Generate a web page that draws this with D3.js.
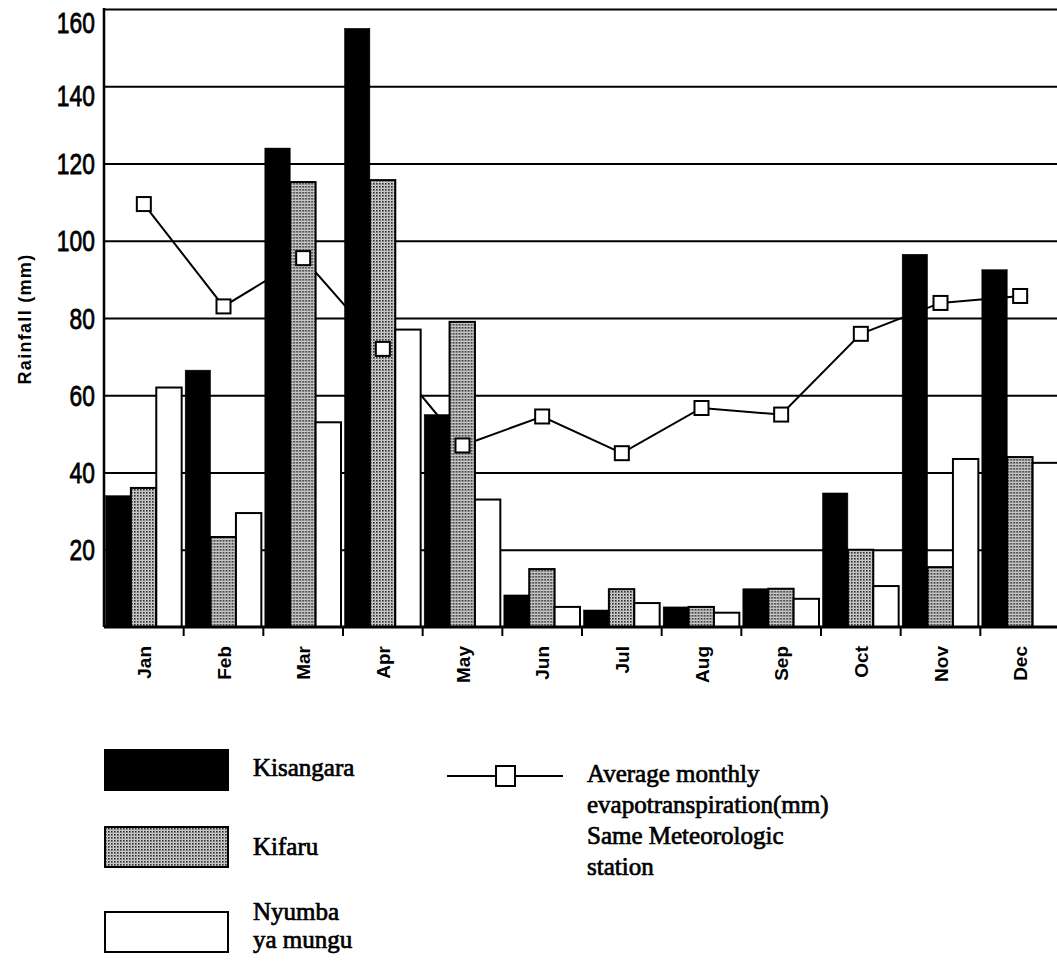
<!DOCTYPE html>
<html>
<head>
<meta charset="utf-8">
<script src="https://cdn.jsdelivr.net/npm/d3@7"></script>
<style>
  html, body { margin: 0; padding: 0; background: #fff; }
  svg { display: block; }
</style>
</head>
<body>
<svg id="chart" width="1057" height="964"></svg>
<script>
// Monthly rainfall at three stations, plus average evapotranspiration
const months = ["Jan", "Feb", "Mar", "Apr", "May", "Jun", "Jul", "Aug", "Sep", "Oct", "Nov", "Dec"];
const kisangara = [34, 66.5, 124, 155, 55, 8.3, 4.4, 5.2, 9.9, 34.7, 96.5, 92.5];
const kifaru    = [36, 23.3, 115.2, 115.7, 79, 15, 9.8, 5.2, 9.9, 20, 15.5, 44];
const nyumba    = [62, 29.5, 53, 77, 33, 5.2, 6.2, 3.7, 7.3, 10.6, 43.5, 42.5];
const evapo     = [109.5, 83, 95.5, 72, 47, 54.5, 45, 56.7, 55, 75.9, 83.9, 85.7];
const yTicks    = [20, 40, 60, 80, 100, 120, 140, 160];
const seriesNames = ["Kisangara", "Kifaru", "Nyumba ya mungu"];

const svg = d3.select("#chart");

const plotLeft = 104, plotRight = 1060, plotTop = 9, plotBottom = 627;
const x = d3.scaleBand().domain(months).range([plotLeft, plotRight]).paddingInner(0).paddingOuter(0);
const y = d3.scaleLinear().domain([0, 160]).range([plotBottom, plotTop]);
const sub = d3.scaleBand().domain(seriesNames).range([1.5, x.bandwidth() - 2]).paddingInner(0);

// halftone fill used for the Kifaru bars
const defs = svg.append("defs");
const pat = defs.append("pattern").attr("id", "dots")
  .attr("patternUnits", "userSpaceOnUse").attr("width", 3).attr("height", 3);
pat.append("rect").attr("width", 3).attr("height", 3).attr("fill", "#cfcfcf");
pat.append("rect").attr("width", 1.6).attr("height", 1.6).attr("fill", "#2a2a2a");
pat.append("rect").attr("x", 1.5).attr("y", 1.5).attr("width", 0.9).attr("height", 0.9).attr("fill", "#7a7a7a");

const fills = { "Kisangara": "#000", "Kifaru": "url(#dots)", "Nyumba ya mungu": "#fff" };
const values = { "Kisangara": kisangara, "Kifaru": kifaru, "Nyumba ya mungu": nyumba };

// gridlines and y labels
const yAxis = d3.axisLeft(y).tickValues(yTicks).tickSize(-(plotRight - plotLeft)).tickPadding(12)
  .tickFormat(d3.format("d"));
const gy = svg.append("g").attr("transform", `translate(${plotLeft},0)`).call(yAxis);
gy.select(".domain").remove();
gy.selectAll(".tick line").attr("stroke", "#000").attr("stroke-width", 2);
gy.selectAll(".tick text")
  .attr("font-family", "'Liberation Sans', 'DejaVu Sans', sans-serif")
  .attr("font-size", 30)
  .attr("fill", "#000")
  .attr("stroke", "#000").attr("stroke-width", 0.8)
  .attr("dy", d => d === 160 ? "0.78em" : (d === 140 ? "0.65em" : "0.34em"))
  .attr("transform", "scale(0.76,1)");

// evapotranspiration line, drawn behind the bars
const line = d3.line().x((d, i) => x(months[i]) + x.bandwidth() / 2).y(d => y(d));
svg.append("path").datum(evapo).attr("d", line)
  .attr("fill", "none").attr("stroke", "#000").attr("stroke-width", 2);

// grouped bars
const groups = svg.append("g").selectAll("g").data(months).join("g")
  .attr("transform", d => `translate(${x(d)},0)`);
groups.selectAll("rect")
  .data((m, i) => seriesNames.map(s => ({ s, v: values[s][i] })))
  .join("rect")
  .attr("x", d => sub(d.s))
  .attr("width", sub.bandwidth())
  .attr("y", d => y(d.v))
  .attr("height", d => y(0) - y(d.v))
  .attr("fill", d => fills[d.s])
  .attr("stroke", "#000")
  .attr("stroke-width", d => d.s === "Kisangara" ? 0.5 : 2);

// markers in front
const mk = 14;
svg.append("g").selectAll("rect").data(evapo).join("rect")
  .attr("x", (d, i) => x(months[i]) + x.bandwidth() / 2 - mk / 2)
  .attr("y", d => y(d) - mk / 2)
  .attr("width", mk).attr("height", mk)
  .attr("fill", "#fff").attr("stroke", "#000").attr("stroke-width", 2);

// axes frame
svg.append("line").attr("x1", plotLeft).attr("x2", 1057).attr("y1", plotBottom).attr("y2", plotBottom)
  .attr("stroke", "#000").attr("stroke-width", 3);
svg.append("line").attr("x1", plotLeft).attr("x2", plotLeft).attr("y1", plotTop - 1).attr("y2", plotBottom)
  .attr("stroke", "#000").attr("stroke-width", 2.5);

// category separators below the baseline
svg.append("g").selectAll("line").data(months.slice(1)).join("line")
  .attr("x1", d => x(d)).attr("x2", d => x(d))
  .attr("y1", plotBottom).attr("y2", plotBottom + 9)
  .attr("stroke", "#000").attr("stroke-width", 2);

// month labels, rotated
const xAxis = d3.axisBottom(x).tickSize(0).tickPadding(0);
const gx = svg.append("g").attr("transform", `translate(0,${plotBottom})`).call(xAxis);
gx.select(".domain").remove();
gx.selectAll(".tick text")
  .attr("font-family", "'Liberation Sans', 'DejaVu Sans', sans-serif")
  .attr("font-weight", "bold")
  .attr("font-size", 19)
  .attr("fill", "#000")
  .attr("text-anchor", "end")
  .attr("dy", null)
  .attr("y", 0)
  .attr("transform", "translate(7,19) rotate(-90)");

// y axis title
svg.append("text")
  .attr("transform", "translate(31,319) rotate(-90)")
  .attr("text-anchor", "middle")
  .attr("font-family", "'Liberation Sans', 'DejaVu Sans', sans-serif")
  .attr("font-weight", "bold")
  .attr("font-size", 18)
  .attr("letter-spacing", 1.3)
  .attr("fill", "#000")
  .text("Rainfall (mm)");

// legend
const legendFont = "'Liberation Serif', 'DejaVu Serif', serif";
const swatches = [
  { name: "Kisangara", y: 750, lines: ["Kisangara"], ty: [776] },
  { name: "Kifaru", y: 827, lines: ["Kifaru"], ty: [855] },
  { name: "Nyumba ya mungu", y: 912, lines: ["Nyumba", "ya mungu"], ty: [920, 948] }
];
const lg = svg.append("g");
swatches.forEach(s => {
  lg.append("rect").attr("x", 105).attr("y", s.y).attr("width", 123).attr("height", 40)
    .attr("fill", fills[s.name]).attr("stroke", "#000").attr("stroke-width", 2);
  s.lines.forEach((t, i) => {
    lg.append("text").attr("x", 253).attr("y", s.ty[i])
      .attr("font-family", legendFont).attr("font-size", 25)
      .attr("fill", "#000").attr("stroke", "#000").attr("stroke-width", 0.7)
      .text(t);
  });
});
lg.append("line").attr("x1", 447).attr("x2", 563).attr("y1", 776).attr("y2", 776)
  .attr("stroke", "#000").attr("stroke-width", 2);
lg.append("rect").attr("x", 496).attr("y", 766).attr("width", 19).attr("height", 20)
  .attr("fill", "#fff").attr("stroke", "#000").attr("stroke-width", 2);
const evLines = ["Average monthly", "evapotranspiration(mm)", "Same Meteorologic", "station"];
const evY = [782, 813, 844, 875];
evLines.forEach((t, i) => {
  lg.append("text").attr("x", 587).attr("y", evY[i])
    .attr("font-family", legendFont).attr("font-size", 25)
    .attr("fill", "#000").attr("stroke", "#000").attr("stroke-width", 0.7)
    .text(t);
});
</script>
</body>
</html>
